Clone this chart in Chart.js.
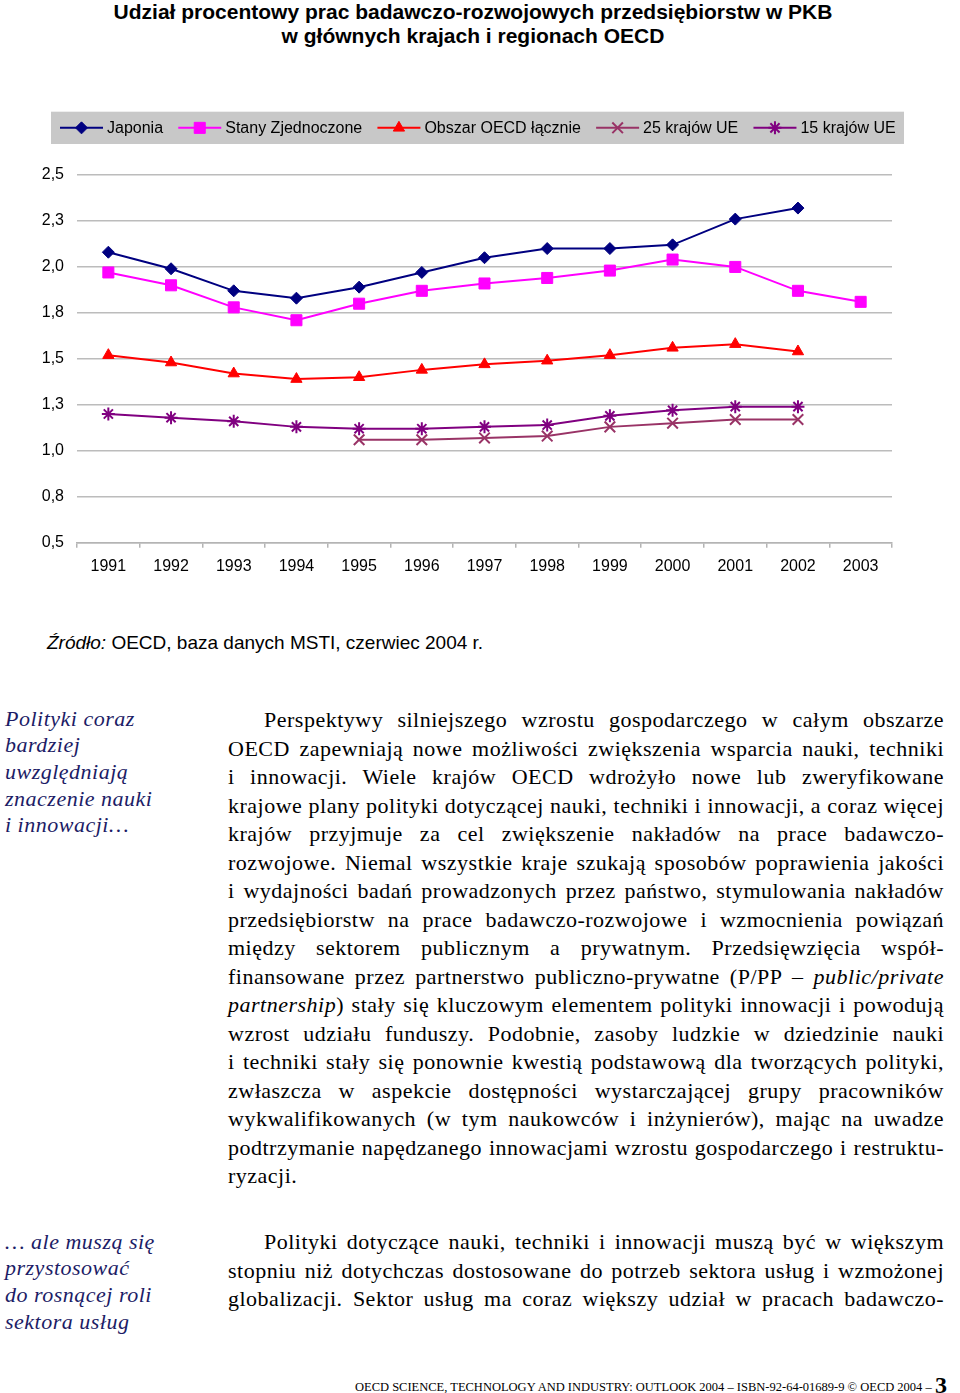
<!DOCTYPE html>
<html lang="pl">
<head>
<meta charset="utf-8">
<title>Udział procentowy prac badawczo-rozwojowych przedsiębiorstw w PKB</title>
<script src="https://cdn.jsdelivr.net/npm/chart.js@4/dist/chart.umd.min.js"></script>
<style>
  html, body { margin: 0; padding: 0; background: #fff; }
  body { width: 960px; height: 1393px; position: relative; overflow: hidden; }
  .abs { position: absolute; }
  #title { left: 0; top: 0; width: 946px; text-align: center; font: bold 21px "Liberation Sans", Arial, sans-serif; line-height: 24px; color: #000; }
  #chartWrap { left: 0; top: 100px; width: 960px; height: 490px; }
  #source { left: 47px; top: 632px; font: 19px "Liberation Sans", Arial, sans-serif; line-height: 22px; color: #000; }
  .note { left: 5px; width: 210px; font: italic 22px "Liberation Serif", "Times New Roman", serif; letter-spacing: 0.5px; line-height: 26.7px; color: #1c1c66; }
  .body { left: 228px; width: 716px; font: 22px "Liberation Serif", "Times New Roman", serif; letter-spacing: 0.5px; line-height: 28.5px; color: #000; }
  .body div { text-align: justify; text-align-last: justify; white-space: nowrap; }
  .body div.last { text-align-last: left; }
  .body div.ind { padding-left: 36px; }
  #footer { left: 355px; top: 1376px; font: 12.5px "Liberation Serif", "Times New Roman", serif; line-height: 18px; color: #000; white-space: nowrap; }
  #footer b { font-size: 24px; vertical-align: -2px; }
</style>
</head>
<body>
<div id="title" class="abs">Udział procentowy prac badawczo-rozwojowych przedsiębiorstw w PKB<br>w głównych krajach i regionach OECD</div>

<div id="chartWrap" class="abs"><canvas id="rdChart"></canvas></div>

<div id="source" class="abs"><i>Źródło:</i> OECD, baza danych MSTI, czerwiec 2004 r.</div>

<div class="abs note" style="top:705.5px">Polityki coraz<br>bardziej<br>uwzględniają<br>znaczenie nauki<br>i innowacji…</div>

<div class="abs body" style="top:706px">
  <div class="ind">Perspektywy silniejszego wzrostu gospodarczego w całym obszarze</div>
  <div>OECD zapewniają nowe możliwości zwiększenia wsparcia nauki, techniki</div>
  <div>i innowacji. Wiele krajów OECD wdrożyło nowe lub zweryfikowane</div>
  <div>krajowe plany polityki dotyczącej nauki, techniki i innowacji, a coraz więcej</div>
  <div>krajów przyjmuje za cel zwiększenie nakładów na prace badawczo-</div>
  <div>rozwojowe. Niemal wszystkie kraje szukają sposobów poprawienia jakości</div>
  <div>i wydajności badań prowadzonych przez państwo, stymulowania nakładów</div>
  <div>przedsiębiorstw na prace badawczo-rozwojowe i wzmocnienia powiązań</div>
  <div>między sektorem publicznym a prywatnym. Przedsięwzięcia współ-</div>
  <div>finansowane przez partnerstwo publiczno-prywatne (P/PP – <i>public/private</i></div>
  <div><i>partnership</i>) stały się kluczowym elementem polityki innowacji i powodują</div>
  <div>wzrost udziału funduszy. Podobnie, zasoby ludzkie w dziedzinie nauki</div>
  <div>i techniki stały się ponownie kwestią podstawową dla tworzących polityki,</div>
  <div>zwłaszcza w aspekcie dostępności wystarczającej grupy pracowników</div>
  <div>wykwalifikowanych (w tym naukowców i inżynierów), mając na uwadze</div>
  <div>podtrzymanie napędzanego innowacjami wzrostu gospodarczego i restruktu-</div>
  <div class="last">ryzacji.</div>
</div>

<div class="abs note" style="top:1228.5px">… ale muszą się<br>przystosować<br>do rosnącej roli<br>sektora usług</div>

<div class="abs body" style="top:1228px">
  <div class="ind">Polityki dotyczące nauki, techniki i innowacji muszą być w większym</div>
  <div>stopniu niż dotychczas dostosowane do potrzeb sektora usług i wzmożonej</div>
  <div>globalizacji. Sektor usług ma coraz większy udział w pracach badawczo-</div>
</div>

<div id="footer" class="abs">OECD SCIENCE, TECHNOLOGY AND INDUSTRY: OUTLOOK 2004 – ISBN-92-64-01689-9 © OECD 2004 – <b>3</b></div>

<script>
const years = ['1991', '1992', '1993', '1994', '1995', '1996', '1997', '1998', '1999', '2000', '2001', '2002', '2003']

const japonia = [2.08, 1.99, 1.87, 1.83, 1.89, 1.97, 2.05, 2.10, 2.10, 2.12, 2.26, 2.32, null]
const stanyZjednoczone = [1.97, 1.90, 1.78, 1.71, 1.80, 1.87, 1.91, 1.94, 1.98, 2.04, 2.00, 1.87, 1.81]
const oecdLacznie = [1.52, 1.48, 1.42, 1.39, 1.40, 1.44, 1.47, 1.49, 1.52, 1.56, 1.58, 1.54, null]
const ue25 = [null, null, null, null, 1.06, 1.06, 1.07, 1.08, 1.13, 1.15, 1.17, 1.17, null]
const ue15 = [1.20, 1.18, 1.16, 1.13, 1.12, 1.12, 1.13, 1.14, 1.19, 1.22, 1.24, 1.24, null]

const yTicks = [0.5, 0.75, 1.0, 1.25, 1.5, 1.75, 2.0, 2.25, 2.5]

function series(label, data, color, pointStyle, radius, pointBorderWidth) {
  return {
    label,
    data,
    borderColor: color,
    backgroundColor: color,
    pointBackgroundColor: color,
    pointBorderColor: color,
    borderWidth: 2,
    pointStyle,
    pointRadius: radius,
    pointHoverRadius: radius,
    pointBorderWidth,
    spanGaps: false,
    tension: 0
  }
}

// Gray legend bar drawn above the plot, line + marker per series
const legendBar = {
  id: 'legendBar',
  afterDraw(chart) {
    const ctx = chart.ctx
    const top = 11.7
    const height = 32.3
    const cy = top + height / 2
    ctx.save()
    ctx.fillStyle = '#c8c8c8'
    ctx.fillRect(51, top, 853, height)
    ctx.font = '16px "Liberation Sans", Arial, sans-serif'
    ctx.textBaseline = 'middle'
    let x = 60
    chart.data.datasets.forEach(ds => {
      ctx.strokeStyle = ds.borderColor
      ctx.lineWidth = 2
      ctx.beginPath()
      ctx.moveTo(x, cy)
      ctx.lineTo(x + 43, cy)
      ctx.stroke()
      ctx.fillStyle = ds.pointBackgroundColor
      ctx.strokeStyle = ds.pointBorderColor
      ctx.lineWidth = ds.pointBorderWidth
      Chart.helpers.drawPoint(ctx, {
        pointStyle: ds.pointStyle,
        radius: ds.pointRadius,
        borderWidth: ds.pointBorderWidth,
        rotation: 0
      }, x + 21.5, cy)
      ctx.fillStyle = '#000'
      ctx.fillText(ds.label, x + 47, cy + 1)
      x += 47 + ctx.measureText(ds.label).width + 15.2
    })
    ctx.restore()
  }
}

new Chart(document.getElementById('rdChart'), {
  type: 'line',
  data: {
    labels: years,
    datasets: [
      series('Japonia', japonia, '#000080', 'rectRot', 6, 1),
      series('Stany Zjednoczone', stanyZjednoczone, '#ff00ff', 'rect', 7.8, 1),
      series('Obszar OECD łącznie', oecdLacznie, '#ff0000', 'triangle', 6.5, 1),
      series('25 krajów UE', ue25, '#993366', 'crossRot', 7.5, 2),
      series('15 krajów UE', ue15, '#800080', 'star', 6.5, 2)
    ]
  },
  options: {
    responsive: true,
    maintainAspectRatio: false,
    animation: false,
    layout: {
      padding: { top: 75, right: 68, left: 0, bottom: 7.3 }
    },
    scales: {
      x: {
        offset: true,
        afterFit(scale) { scale.height = 40 },
        grid: {
          offset: true,
          drawOnChartArea: false,
          drawTicks: true,
          tickLength: 5,
          color: '#b4b4b4',
          lineWidth: 1.5
        },
        border: { display: true, color: '#b4b4b4', width: 1.5 },
        ticks: {
          color: '#000',
          padding: 9,
          maxRotation: 0,
          autoSkip: false,
          font: { family: '"Liberation Sans", Arial, sans-serif', size: 16 }
        }
      },
      y: {
        min: 0.5,
        max: 2.5,
        afterFit(scale) { scale.width = 77 },
        afterBuildTicks(scale) {
          scale.ticks = yTicks.map(v => ({ value: v }))
        },
        grid: {
          drawTicks: false,
          color: '#bcbcbc',
          lineWidth: 1.5
        },
        border: { display: false },
        ticks: {
          color: '#000',
          padding: 13,
          font: { family: '"Liberation Sans", Arial, sans-serif', size: 16 },
          callback(value) {
            return (Math.round(value * 10 + 0.001) / 10).toFixed(1).replace('.', ',')
          }
        }
      }
    },
    plugins: {
      legend: { display: false },
      title: { display: false },
      tooltip: { enabled: false }
    }
  },
  plugins: [legendBar]
})
</script>
</body>
</html>
